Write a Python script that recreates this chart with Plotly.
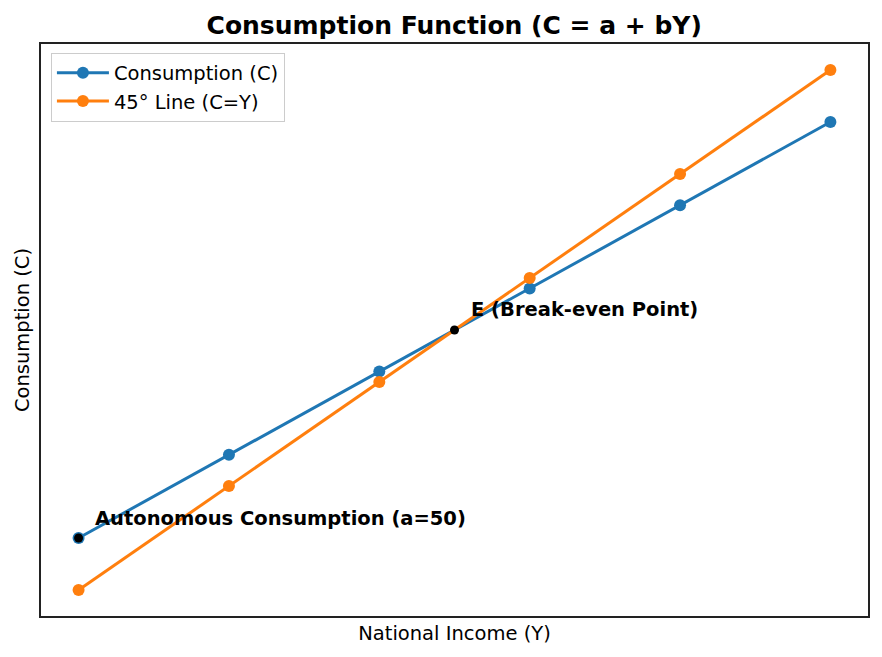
import plotly.graph_objects as go

income = [0, 100, 200, 300, 400, 500]
a = 50
b = 0.8
consumption = [50, 130, 210, 290, 370, 450]
line45 = [0, 100, 200, 300, 400, 500]
breakeven_y = [250]
breakeven_c = [250]
auto_y = [0]
auto_c = [50]

fig = go.Figure()
fig.add_trace(go.Scatter(x=income, y=consumption, mode="lines+markers",
                         name="Consumption (C)",
                         line=dict(color="#1f77b4", width=3),
                         marker=dict(color="#1f77b4", size=12)))
fig.add_trace(go.Scatter(x=income, y=line45, mode="lines+markers",
                         name="45° Line (C=Y)",
                         line=dict(color="#ff7f0e", width=3),
                         marker=dict(color="#ff7f0e", size=12)))
fig.add_trace(go.Scatter(x=breakeven_y, y=breakeven_c, mode="markers", showlegend=False,
                         marker=dict(color="black", size=9)))
fig.add_trace(go.Scatter(x=auto_y, y=auto_c, mode="markers", showlegend=False,
                         marker=dict(color="black", size=9)))

fig.add_annotation(x=auto_y[0], y=auto_c[0], text="<b>Autonomous Consumption (a=50)</b>",
                   showarrow=False, xanchor="left", yanchor="middle", xshift=14, yshift=20,
                   font=dict(family="DejaVu Sans", size=19.5, color="black"))
fig.add_annotation(x=breakeven_y[0], y=breakeven_c[0], text="<b>E (Break-even Point)</b>",
                   showarrow=False, xanchor="left", yanchor="middle", xshift=14, yshift=21,
                   font=dict(family="DejaVu Sans", size=19.5, color="black"))

fig.update_layout(
    width=882, height=657,
    margin=dict(l=41, r=14, t=44, b=41),
    paper_bgcolor="white", plot_bgcolor="white",
    font=dict(family="DejaVu Sans", size=19.5, color="black"),
    title=dict(text="<b>Consumption Function (C = a + bY)</b>", x=0.515, xanchor="center",
               y=0.962, yanchor="middle", font=dict(size=25)),
    legend=dict(x=0.012, y=0.985, xanchor="left", yanchor="top",
                bordercolor="#cccccc", borderwidth=1, bgcolor="rgba(255,255,255,0.8)",
                font=dict(size=19.5), tracegroupgap=0, itemwidth=52),
    xaxis=dict(range=[-25, 525], showticklabels=False, ticks="", showgrid=False,
               zeroline=False, showline=True, mirror=True, linecolor="#222", linewidth=1.5,
               title=dict(text="National Income (Y)", standoff=10, font=dict(size=19.5))),
    yaxis=dict(range=[-25, 525], showticklabels=False, ticks="", showgrid=False,
               zeroline=False, showline=True, mirror=True, linecolor="#222", linewidth=1.5,
               title=dict(text="Consumption (C)", standoff=4, font=dict(size=19.5))),
)

fig.write_html("out.html")
